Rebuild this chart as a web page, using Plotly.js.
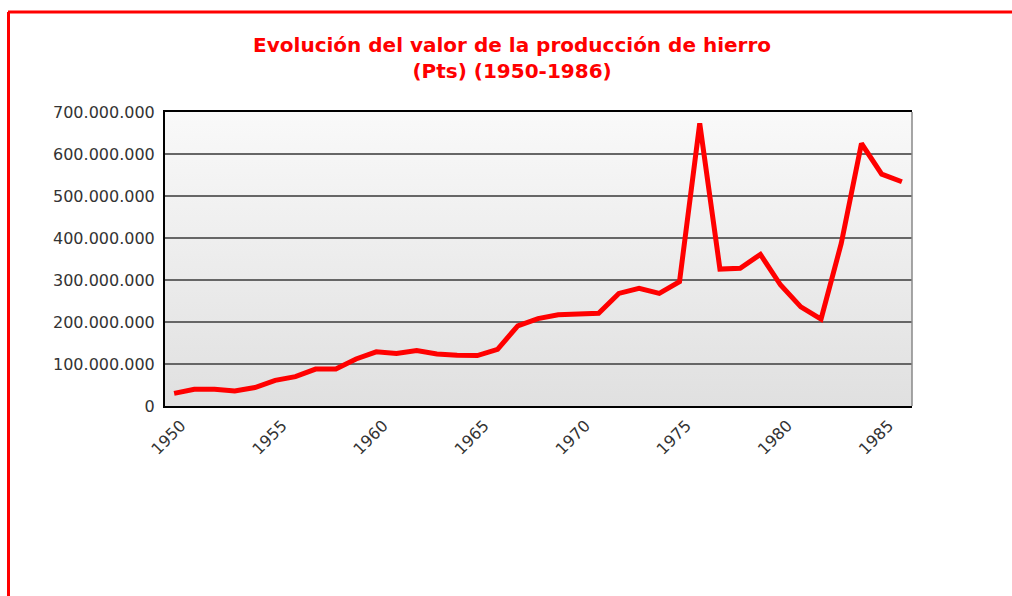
<!DOCTYPE html>
<html>
<head>
<meta charset="utf-8">
<script src="https://cdn.plot.ly/plotly-3.0.1.min.js"></script>
<style>
html,body{margin:0;padding:0;background:#fff;}
#chart{width:1012px;height:596px;}
</style>
</head>
<body>
<div id="chart"></div>
<script>
const years = [1950,1951,1952,1953,1954,1955,1956,1957,1958,1959,1960,1961,1962,1963,1964,1965,1966,1967,1968,1969,1970,1971,1972,1973,1974,1975,1976,1977,1978,1979,1980,1981,1982,1983,1984,1985,1986];
const valores = [30e6,40e6,40e6,36e6,44e6,61e6,70e6,88e6,88e6,112e6,129e6,125e6,132e6,124e6,121e6,120e6,135e6,191e6,208e6,217e6,219e6,221e6,268e6,280e6,268e6,296e6,673e6,326e6,328e6,361e6,288e6,236e6,207e6,387e6,625e6,552e6,534e6];
const yTicks = [0,100e6,200e6,300e6,400e6,500e6,600e6,700e6];
const xTicks = [1950,1955,1960,1965,1970,1975,1980,1985];
const titulo = 'Evolución del valor de la producción de hierro<br>(Pts) (1950-1986)';

const grad = 'data:image/svg+xml;utf8,' + encodeURIComponent(
 '<svg xmlns="http://www.w3.org/2000/svg" width="100" height="100" preserveAspectRatio="none">' +
 '<defs><linearGradient id="g" x1="0" y1="0" x2="0" y2="1">' +
 '<stop offset="0" stop-color="#f9f9f9"/><stop offset="1" stop-color="#e0e0e0"/></linearGradient></defs>' +
 '<rect width="100" height="100" fill="url(#g)"/></svg>');

const trace = {
  x: years, y: valores, type: 'scatter', mode: 'lines',
  line: {color: '#ff0000', width: 5, shape: 'linear'},
  hoverinfo: 'x+y'
};

const layout = {
  width: 1012, height: 596,
  margin: {l: 165, r: 100, t: 112, b: 190},
  paper_bgcolor: '#ffffff',
  plot_bgcolor: 'rgba(0,0,0,0)',
  separators: ',.',
  showlegend: false,
  font: {family: 'DejaVu Sans, sans-serif', color: '#333333', size: 16},
  title: {
    text: titulo,
    font: {family: 'DejaVu Sans, sans-serif', size: 20, color: '#ff0000', weight: 'bold'},
    x: 0.506, xref: 'container', xanchor: 'center',
    y: 0.912, yref: 'container', yanchor: 'middle'
  },
  xaxis: {
    range: [1949.55, 1986.5],
    tickmode: 'array', tickvals: xTicks, ticktext: xTicks.map(String),
    tickangle: -45,
    ticks: '', showgrid: false, zeroline: false,
    showline: true, linecolor: '#000000', linewidth: 2, mirror: true,
    ticklabelshift: 7, ticklabelstandoff: 2,
    tickfont: {size: 16, color: '#333333'}
  },
  yaxis: {
    range: [0, 700e6],
    tickmode: 'array', tickvals: yTicks,
    tickformat: ',d',
    ticks: '', showgrid: true, gridcolor: '#666666', gridwidth: 1.3,
    zeroline: false,
    showline: true, linecolor: '#000000', linewidth: 2,
    ticklabelstandoff: 5,
    tickfont: {size: 16, color: '#333333'}
  },
  images: [{
    source: grad, xref: 'paper', yref: 'paper', x: 0, y: 1,
    sizex: 1, sizey: 1, sizing: 'stretch', xanchor: 'left', yanchor: 'top',
    layer: 'below'
  }],
  shapes: [
    {type: 'line', xref: 'paper', yref: 'paper', x0: 1, x1: 1, y0: 0, y1: 1,
     line: {color: '#888888', width: 1.5}},
    {type: 'line', xref: 'paper', yref: 'paper',
     x0: (8-165)/747, x1: (1014-165)/747, y0: (596-190-12)/294, y1: (596-190-12)/294,
     line: {color: '#ff0000', width: 3}},
    {type: 'line', xref: 'paper', yref: 'paper',
     x0: (8.5-165)/747, x1: (8.5-165)/747, y0: (596-190-12)/294, y1: (596-190-600)/294,
     line: {color: '#ff0000', width: 3}}
  ]
};

Plotly.newPlot('chart', [trace], layout, {displayModeBar: false, staticPlot: true});
</script>
</body>
</html>
